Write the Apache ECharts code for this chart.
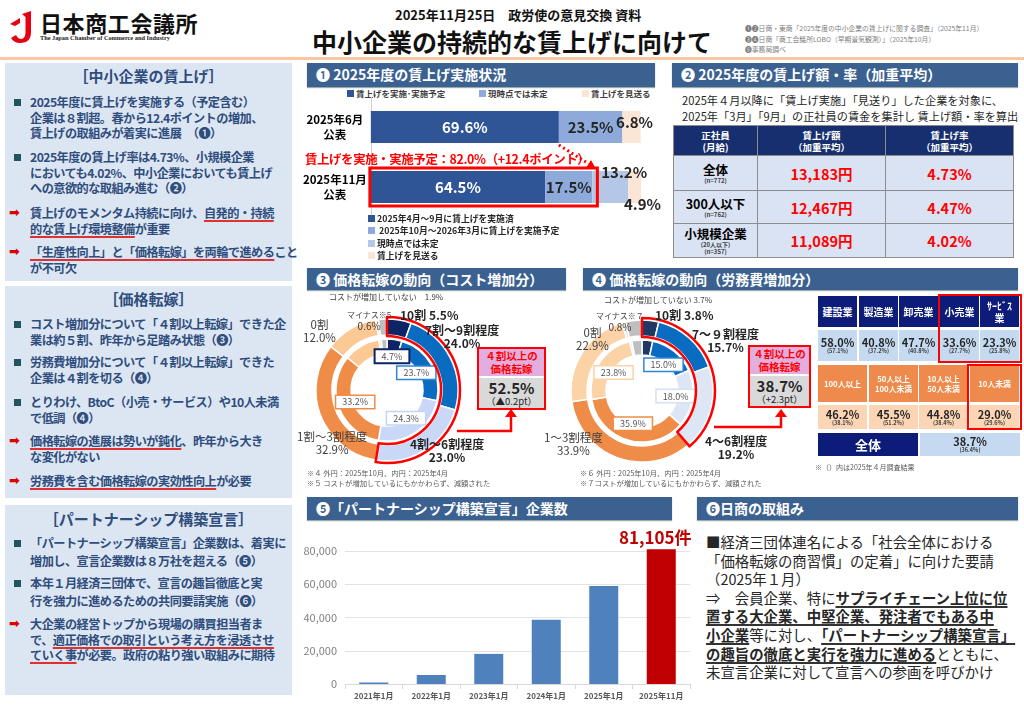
<!DOCTYPE html>
<html lang="ja"><head><meta charset="utf-8"><title>中小企業の持続的な賃上げに向けて</title>
<script src="https://cdn.jsdelivr.net/npm/echarts@6.0.0/dist/echarts.min.js"></script>
<style>
*{margin:0;padding:0;box-sizing:border-box}
html,body{width:1024px;height:708px;overflow:hidden;background:#fff}
body{position:relative;font-family:"Noto Sans CJK JP","Noto Sans",sans-serif;color:#262626}
.a{position:absolute;white-space:nowrap}
.hdr{position:absolute;background:#3b6191;color:#fff;font-weight:bold;font-size:14px;line-height:23px;padding-left:9px;white-space:nowrap;box-shadow:0 1px 1px #9aa}
.panel{position:absolute;background:#dce6f2}
.pt{position:absolute;left:0;right:0;text-align:center;font-weight:bold;font-size:15px;color:#2f4d7d}
.it{position:absolute;left:25px;font-weight:bold;font-size:12.2px;letter-spacing:-0.55px;color:#2f4d7d;white-space:nowrap;line-height:15.5px}
.mk{position:absolute;left:-16px;top:4px;width:7px;height:7px;background:#20545f}
.ar{position:absolute;left:-21px;top:-1px;color:#d00;font-size:13px;font-family:"DejaVu Sans"}
.u{text-decoration:underline;text-decoration-color:#e03030;text-underline-offset:2px;text-decoration-thickness:1.5px}
.ub{text-decoration:underline;text-decoration-color:#333;text-underline-offset:2px;text-decoration-thickness:1.5px}
.chart{position:absolute}
.sq{display:inline-block;width:7px;height:7px;margin-right:2px;vertical-align:0px}
.lg{font-size:8.5px;font-weight:bold;color:#404040}
.cell{position:absolute;display:flex;flex-direction:column;align-items:center;justify-content:center;text-align:center;white-space:nowrap}
.dl{position:absolute;white-space:nowrap;line-height:12px;text-align:center}
table.w{position:absolute;left:673px;top:125px;border-collapse:collapse;table-layout:fixed}
table.w td{border:1px solid #8c8c8c;text-align:center;vertical-align:middle;padding:0}
</style></head>
<body>

<!-- ===== header ===== -->
<svg class="a" style="left:8px;top:9px" width="32" height="36" viewBox="0 0 32 36">
 <path d="M2 15 L12 9 L12 14 L7 17 Z" fill="#e60012"/>
 <path d="M14 5 L23 2 L23 23 Q23 34 12 34 Q6 34 3 29 L8 26 Q10 30 13 30 Q17.5 30 17.5 23 L17.5 8 Z" fill="#e60012"/>
</svg>
<div class="a" style="left:40px;top:6px;font-size:22px;font-weight:bold;color:#111;letter-spacing:0.6px">日本商工会議所</div>
<div class="a" style="left:40px;top:34px;font-size:6.3px;font-family:'Liberation Serif';font-weight:bold;color:#222">The Japan Chamber of Commerce and Industry</div>
<div class="a" style="left:395px;top:5px;font-size:13px;font-weight:bold;color:#111">2025年11月25日　政労使の意見交換 資料</div>
<div class="a" style="left:312px;top:24px;font-size:25px;font-weight:bold;color:#111;line-height:34px">中小企業の持続的な賃上げに向けて</div>
<div class="a" style="left:745px;top:23px;font-size:6.8px;line-height:10.5px;color:#808080">❶❷日商・東商「2025年度の中小企業の賃上げに関する調査」（2025年11月）<br>❸❹日商「商工会議所LOBO（早期景気観測）」（2025年10月）<br>❺事務局調べ</div>
<div class="a" style="left:0;top:57px;width:1024px;height:3px;background:#fac7a2"></div>

<!-- ===== left panels ===== -->
<div class="panel" style="left:5px;top:63px;width:287px;height:218px">
 <div class="pt" style="top:2px">［中小企業の賃上げ］</div>
 <div class="it" style="top:32px"><span class="mk"></span>2025年度に賃上げを実施する（予定含む）<br>企業は８割超。春から12.4ポイントの増加、<br>賃上げの取組みが着実に進展　（❶）</div>
 <div class="it" style="top:87px"><span class="mk"></span>2025年度の賃上げ率は4.73%、小規模企業<br>においても4.02%、中小企業においても賃上げ<br>への意欲的な取組み進む（❷）</div>
 <div class="it" style="top:143px"><span class="ar">➡</span>賃上げのモメンタム持続に向け、<span class="u">自発的・持続</span><br><span class="u">的な賃上げ環境整備</span>が重要</div>
 <div class="it" style="top:182px"><span class="ar">➡</span><span class="u">「生産性向上」と「価格転嫁」を両輪で進める</span>こと<br>が不可欠</div>
</div>

<div class="panel" style="left:5px;top:286px;width:287px;height:212px">
 <div class="pt" style="top:2px">［価格転嫁］</div>
 <div class="it" style="top:31px"><span class="mk"></span>コスト増加分について「４割以上転嫁」できた企<br>業は約５割、昨年から足踏み状態（❸）</div>
 <div class="it" style="top:69px"><span class="mk"></span>労務費増加分について「４割以上転嫁」できた<br>企業は４割を切る（❹）</div>
 <div class="it" style="top:109px"><span class="mk"></span>とりわけ、BtoC（小売・サービス）や10人未満<br>で低調（❹）</div>
 <div class="it" style="top:148px"><span class="ar">➡</span><span class="u">価格転嫁の進展は勢いが鈍化</span>、昨年から大き<br>な変化がない</div>
 <div class="it" style="top:188px"><span class="ar">➡</span><span class="u">労務費を含む価格転嫁の実効性向上</span>が必要</div>
</div>

<div class="panel" style="left:5px;top:505px;width:287px;height:190px">
 <div class="pt" style="top:3px">［パートナーシップ構築宣言］</div>
 <div class="it" style="top:30px;line-height:17.5px"><span class="mk" style="top:5px"></span>「パートナーシップ構築宣言」企業数は、着実に<br>増加し、宣言企業数は８万社を超える（❺）</div>
 <div class="it" style="top:70px;line-height:17.5px"><span class="mk" style="top:5px"></span>本年１月経済三団体で、宣言の趣旨徹底と実<br>行を強力に進めるための共同要請実施（❻）</div>
 <div class="it" style="top:112px;line-height:15.5px"><span class="ar">➡</span>大企業の経営トップから現場の購買担当者ま<br>で、<span class="u">適正価格での取引という考え方を浸透させ</span><br><span class="u">ていく事</span>が必要。政府の粘り強い取組みに期待</div>
</div>

<!-- ===== section headers ===== -->
<div class="hdr" style="left:307px;top:63px;width:348px;height:24px">❶ 2025年度の賃上げ実施状況</div>
<div class="hdr" style="left:672px;top:63px;width:346px;height:24px">❷ 2025年度の賃上げ額・率（加重平均）</div>
<div class="hdr" style="left:307px;top:268px;width:259px;height:22px;line-height:22px">❸ 価格転嫁の動向（コスト増加分）</div>
<div class="hdr" style="left:583px;top:268px;width:435px;height:22px;line-height:22px">❹ 価格転嫁の動向（労務費増加分）</div>
<div class="hdr" style="left:307px;top:497px;width:365px;height:23px">❺「パートナーシップ構築宣言」企業数</div>
<div class="hdr" style="left:697px;top:497px;width:321px;height:23px">❻日商の取組み</div>

<!-- ===== section 1 ===== -->
<div class="a lg" style="left:347px;top:87px"><span class="sq" style="background:#2f5597"></span>賃上げを実施･実施予定</div>
<div class="a lg" style="left:479px;top:87px"><span class="sq" style="background:#8eaadb"></span>現時点では未定</div>
<div class="a lg" style="left:582px;top:87px"><span class="sq" style="background:#fbe5d6"></span>賃上げを見送る</div>
<div class="chart" id="c1" style="left:300px;top:90px;width:370px;height:130px"></div>
<div class="a" id="s1note" style="left:305px;top:150px;font-size:12.4px;letter-spacing:-0.35px;font-weight:bold;color:#ff0000"></div>
<div class="a lg" style="left:368px;top:213px;line-height:12.4px;font-size:8.8px;color:#262626">
 <span class="sq" style="background:#2f5597"></span>2025年4月～9月に賃上げを実施済<br>
 <span class="sq" style="background:#8eaadb"></span> 2025年10月～2026年3月に賃上げを実施予定<br>
 <span class="sq" style="background:#b4c7e7"></span>現時点では未定<br>
 <span class="sq" style="background:#fbe5d6"></span>賃上げを見送る</div>

<!-- ===== section 2 ===== -->
<div class="a" style="left:682px;top:92px;font-size:11.2px;line-height:16px;color:#262626">2025年４月以降に「賃上げ実施」「見送り」した企業を対象に、<br>2025年「3月」「9月」の正社員の賃金を集計し 賃上げ額・率を算出</div>
<table class="w" id="wtable"></table>

<!-- ===== section 3 / 4 ===== -->
<div class="chart" id="c3" style="left:300px;top:292px;width:180px;height:180px"></div>
<div class="chart" id="c4" style="left:570px;top:292px;width:150px;height:180px"></div>
<div id="labels34"></div>
<div class="a" style="left:307px;top:468px;font-size:7.3px;line-height:10px;color:#595959">※４ 外円：2025年10月、内円：2025年4月<br>※５ コストが増加しているにもかかわらず、減額された</div>
<div class="a" style="left:580px;top:468px;font-size:7.3px;line-height:10px;color:#595959">※６ 外円：2025年10月、内円：2025年4月<br>※７コストが増加しているにもかかわらず、減額された</div>

<!-- right table -->
<div id="rtable"></div>
<div class="a" style="left:815px;top:462px;font-size:7px;color:#595959">※（）内は2025年４月調査結果</div>

<!-- ===== section 5 ===== -->
<div class="chart" id="c5" style="left:298px;top:525px;width:400px;height:183px"></div>

<!-- ===== section 6 ===== -->
<div class="a" style="left:706px;top:533px;font-size:14.4px;line-height:18.6px;color:#262626">■経済三団体連名による「社会全体における<br>「価格転嫁の商習慣」の定着」に向けた要請<br>（2025年１月）<br>⇒　会員企業、特に<b class="ub">サプライチェーン上位に位</b><br><b class="ub">置する大企業、中堅企業、発注者でもある中</b><br><b class="ub">小企業</b>等に対し、<b class="ub">「パートナーシップ構築宣言」</b><br><b class="ub">の趣旨の徹底と実行を強力に進める</b>とともに、<br>未宣言企業に対して宣言への参画を呼びかけ</div>

<!-- arrows -->
<svg class="a" style="left:0;top:0;pointer-events:none" width="1024" height="708">
 <polyline points="457,431 511,431 511,416" fill="none" stroke="#ff0000" stroke-width="2.5"/>
 <polygon points="505,417 517,417 511,409" fill="#ff0000"/>
 <polyline points="714,427 781,427 781,416" fill="none" stroke="#ff0000" stroke-width="2.5"/>
 <polygon points="775,417 787,417 781,409" fill="#ff0000"/>
</svg>

<script>
// ---------------- data ----------------
// Section 1: wage increase implementation status (%)
const s1Categories = ['2025年6月\n公表', '2025年11月\n公表'];
const s1Done      = [69.6, 64.5];   // 実施・実施予定 / 4月～9月に実施済
const s1Planned   = [23.5, 17.5];   // 6月: 現時点では未定 / 11月: 10月～3月に実施予定
const s1Undecided = [null, 13.2];   // 現時点では未定 (11月)
const s1Skip      = [6.8, 4.9];     // 賃上げを見送る

// Section 2: wage increase amount / rate
const wageRows   = ['全体', '300人以下', '小規模企業'];
const wageSub    = ['(n=772)', '(n=762)', '(20人以下)<br>(n=357)'];
const wageAmount = ['13,183円', '12,467円', '11,089円'];
const wageRate   = ['4.73%', '4.47%', '4.02%'];

// Sections 3 & 4: price pass-through donuts (%)
const passCats    = ['10割', '7割～9割程度', '4割～6割程度', '1割～3割程度', '0割', 'マイナス', 'コストが増加していない'];
const costOuter   = [5.5, 24.0, 23.0, 32.9, 12.0, 0.6, 1.9];   // 2025年10月
const costInner   = [4.7, 23.7, 24.3, 33.2, 11.5, 0.8, 1.8];   // 2025年4月
const laborOuter  = [3.8, 15.7, 19.2, 33.9, 22.9, 0.8, 3.7];   // 2025年10月
const laborInner  = [3.4, 15.0, 18.0, 35.9, 23.8, 0.7, 3.2];   // 2025年4月

// Section 4 table: 4割以上転嫁 by industry / size (%; prev = 2025年4月)
const industries = ['建設業', '製造業', '卸売業', '小売業', 'ｻｰﾋﾞｽ<br>業'];
const indNow     = [58.0, 40.8, 47.7, 33.6, 23.3];
const indPrev    = [57.1, 37.2, 40.8, 27.7, 25.8];
const sizes      = ['100人以上', '50人以上<br>100人未満', '10人以上<br>50人未満', '10人未満'];
const sizeNow    = [46.2, 45.5, 44.8, 29.0];
const sizePrev   = [38.1, 51.2, 38.4, 29.6];
const totalNow   = 38.7, totalPrev = 36.4;

// Section 5: partnership declarations
const ppCats   = ['2021年1月', '2022年1月', '2023年1月', '2024年1月', '2025年1月', '2025年11月'];
const ppValues = [900, 5400, 18100, 38600, 58900, 81105];
const ppTicks  = [0, 20000, 40000, 60000, 80000];

// ---------------- helpers ----------------
const pct = v => v.toFixed(1) + '%';
const sum = a => a.reduce((s, v) => s + (v || 0), 0);
const FONT = '"Noto Sans CJK JP","Noto Sans",sans-serif';

// ---------------- section 1 ----------------
const s1Total = s1Done[1] + s1Planned[1];
const s1Delta = s1Total - s1Done[0];
document.getElementById('s1note').textContent =
  '賃上げを実施・実施予定：' + pct(s1Total) + '（+' + s1Delta.toFixed(1) + 'ポイント）';

const barH = 32;
const c1 = echarts.init(document.getElementById('c1'));
const lblBase = {show: true, fontSize: 15, fontWeight: 'bold', fontFamily: FONT, formatter: p => pct(p.value)};
c1.setOption({
  animation: false,
  grid: {left: 68, top: 7, width: 273, height: 120},
  xAxis: {type: 'value', min: 0, max: 100, show: false},
  yAxis: {type: 'category', inverse: true, data: s1Categories,
    axisTick: {show: false}, axisLine: {show: true, lineStyle: {color: '#d0d0d0'}},
    axisLabel: {margin: 36, align: 'center', fontSize: 11.5, fontWeight: 'bold', color: '#000', lineHeight: 15, fontFamily: FONT}},
  series: [
    {type: 'bar', stack: 's', data: s1Done, barWidth: barH, itemStyle: {color: '#2f5597'},
      label: Object.assign({}, lblBase, {color: '#fff'})},
    {type: 'bar', stack: 's', data: s1Planned, itemStyle: {color: '#8eaadb'},
      label: Object.assign({}, lblBase, {color: '#262626'})},
    {type: 'bar', stack: 's', data: s1Undecided, itemStyle: {color: '#b4c7e7'},
      label: Object.assign({}, lblBase, {color: '#262626', position: ['50%', 0], offset: [14, 1], align: 'center', verticalAlign: 'middle'})},
    {type: 'bar', stack: 's', itemStyle: {color: '#fbe5d6'},
      data: [
        {value: s1Skip[0], label: {position: ['50%', '50%'], offset: [3, -5]}},
        {value: s1Skip[1], label: {position: ['50%', '100%'], offset: [8, 1]}}
      ],
      label: Object.assign({}, lblBase, {color: '#262626', align: 'center', verticalAlign: 'middle'})},
    {type: 'custom', silent: true, z: 10, encode: {x: 0, y: 1}, data: [[s1Total, 1]],
      renderItem: (params, api) => {
        const p0 = api.coord([0, api.value(1)]);
        const p1 = api.coord([api.value(0), api.value(1)]);
        const h = barH + 6;
        return {type: 'rect', shape: {x: p0[0] - 1, y: p0[1] - h / 2, width: p1[0] - p0[0] + 6, height: h},
          style: {fill: 'none', stroke: '#ff0000', lineWidth: 3}};
      }},
    {type: 'custom', silent: true, z: 11, encode: {x: [0, 2], y: [1, 3]}, data: [[s1Done[0], 0, s1Total, 1]],
      renderItem: (params, api) => {
        const a = api.coord([api.value(0), api.value(1)]); a[1] += barH / 2 + 2;
        const b = api.coord([api.value(2), api.value(3)]); b[1] -= barH / 2 + 3; b[0] += 3;
        const ang = Math.atan2(b[1] - a[1], b[0] - a[0]);
        const L = 8, W = 4.5;
        const base = [b[0] - L * Math.cos(ang), b[1] - L * Math.sin(ang)];
        const pts = [b, [base[0] + W * Math.sin(ang), base[1] - W * Math.cos(ang)], [base[0] - W * Math.sin(ang), base[1] + W * Math.cos(ang)]];
        return {type: 'group', children: [
          {type: 'line', shape: {x1: a[0], y1: a[1], x2: base[0], y2: base[1]}, style: {stroke: '#ff0000', lineWidth: 3, lineDash: [2, 3]}},
          {type: 'polygon', shape: {points: pts}, style: {fill: '#ff0000'}}
        ]};
      }}
  ]
});

// ---------------- section 2 ----------------
(function () {
  const t = document.getElementById('wtable');
  let h = '<colgroup><col style="width:84px"><col style="width:128px"><col style="width:128px"></colgroup>';
  h += '<tr style="height:30px;background:#172f6e;color:#fff;font-weight:bold;font-size:9.5px;line-height:12px">' +
       '<td>正社員<br>(月給)</td><td>賃上げ額<br>（加重平均）</td><td>賃上げ率<br>（加重平均）</td></tr>';
  const hs = [35, 33, 34];
  wageRows.forEach((r, i) => {
    h += '<tr style="height:' + hs[i] + 'px;background:#dae3f3">' +
      '<td style="line-height:9px"><div style="font-weight:bold;font-size:12.5px;line-height:15px;color:#000">' + r + '</div>' +
      '<div style="font-weight:bold;font-size:6px;color:#404040;line-height:7.5px">' + wageSub[i] + '</div></td>' +
      '<td style="color:#ff0000;font-weight:bold;font-size:14.5px">' + wageAmount[i] + '</td>' +
      '<td style="color:#ff0000;font-weight:bold;font-size:14.5px">' + wageRate[i] + '</td></tr>';
  });
  t.innerHTML = h;
})();

// ---------------- sections 3 & 4 donuts ----------------
const costColors  = ['#0d2466', '#0a6cc0', '#c9d8f6', '#ef8c47', '#fcc995', '#e7e6e6', '#bfbfbf'];
const laborColors = ['#1f3864', '#0a6cc0', '#dce6f4', '#ef8c47', '#fbd3a6', '#d9e1ea', '#bfbfbf'];
const boxBorders3 = ['#0d2466', '#2e86d6', '#c3d4f4', '#ef8c47'];
const boxBorders4 = ['#1f3864', '#2e86d6', '#d5e1f3', '#ef8c47', '#fbd3a6'];

function donut(id, center, outer, inner, colors, borders) {
  const ch = echarts.init(document.getElementById(id));
  const mk = arr => arr.map((v, i) => ({value: v, name: passCats[i], itemStyle: {color: colors[i]}}));
  const hi = outer[0] + outer[1] + outer[2];
  ch.setOption({
    animation: false,
    series: [
      {type: 'pie', silent: true, center, radius: [55, 71], startAngle: 90, data: mk(outer),
        label: {show: false}, labelLine: {show: false}, itemStyle: {borderColor: '#fff', borderWidth: 1.5}},
      {type: 'pie', silent: true, center, radius: [36, 51], startAngle: 90, data: mk(inner),
        label: {show: false}, labelLine: {show: false}, itemStyle: {borderColor: '#fff', borderWidth: 1.5}},
      {type: 'pie', silent: true, center, radius: [0, 62], startAngle: 90, z: 5,
        data: inner.map((v, i) => ({value: v, itemStyle: {color: 'rgba(0,0,0,0)'},
          label: {show: i < borders.length, borderColor: borders[i] || '#fff', borderWidth: i === 0 ? 2 : 1.5}})),
        label: {position: 'inside', formatter: p => pct(p.value), backgroundColor: '#fff', color: '#595959',
          fontSize: 9, fontFamily: FONT, padding: [2, 6, 1, 6]}, labelLine: {show: false}},
      {type: 'pie', silent: true, center, radius: [54, 73], startAngle: 90, z: 6,
        data: [{value: hi, itemStyle: {color: 'rgba(0,0,0,0)', borderColor: '#ff0000', borderWidth: 2.5}},
               {value: 100 - hi, itemStyle: {color: 'rgba(0,0,0,0)', borderWidth: 0}}],
        label: {show: false}, labelLine: {show: false}}
    ]
  });
}
donut('c3', [87, 98], costOuter, costInner, costColors, boxBorders3);
donut('c4', [72, 99], laborOuter, laborInner, laborColors, boxBorders4);

(function () {
  const L = [];
  const t = (x, y, html, st) => L.push('<div class="dl" style="left:' + x + 'px;top:' + y + 'px;' + (st || '') + '">' + html + '</div>');
  const reg = 'font-size:11.5px;color:#404040;line-height:13px;';
  const bold = 'font-size:12px;font-weight:bold;color:#262626;line-height:13px;';
  // section 3
  t(329, 291, 'コストが増加していない　' + pct(costOuter[6]), 'font-size:8px;color:#404040;');
  t(347, 309, 'マイナス※5<br><span style="font-size:10px">' + pct(costOuter[5]) + '</span>', 'font-size:8px;color:#404040;line-height:11px;');
  t(400, 308, '10割 ' + pct(costOuter[0]), bold);
  t(425, 323, '7割～9割程度<br>' + pct(costOuter[1]), bold);
  t(303, 318, '0割<br>' + pct(costOuter[4]), reg);
  t(297, 430, '1割～3割程度<br>' + pct(costOuter[3]), reg);
  t(410, 437, '4割～6割程度<br>' + pct(costOuter[2]), bold);
  // section 4
  t(604, 294, 'コストが増加していない ' + pct(laborOuter[6]), 'font-size:8px;color:#404040;');
  t(596, 310, 'マイナス※７<br><span style="font-size:10px">' + pct(laborOuter[5]) + '</span>', 'font-size:8px;color:#404040;line-height:11px;');
  t(655, 308, '10割 ' + pct(laborOuter[0]), bold);
  t(692, 327, '7～９割程度<br>' + pct(laborOuter[1]), bold);
  t(576, 326, '0割<br>' + pct(laborOuter[4]), reg);
  t(544, 431, '1～3割程度<br>' + pct(laborOuter[3]), reg);
  t(705, 434, '4～6割程度<br>' + pct(laborOuter[2]), bold);

  // callout boxes
  const box = (x, y, w, now, prev) => {
    const d = now - prev;
    const ds = (d < 0 ? '▲' : '+') + Math.abs(d).toFixed(1) + 'pt';
    L.push('<div class="a" style="left:' + x + 'px;top:' + y + 'px;width:' + w + 'px;height:63px;border:2px solid #ff0000;background:#d9d9d9;text-align:center">' +
      '<div style="height:29px;background:#e2aee0;border-bottom:2px solid #fff;color:#ff0000;font-weight:bold;font-size:10.5px;line-height:12.5px;padding-top:1px">４割以上の<br>価格転嫁</div>' +
      '<div style="font-weight:bold;font-size:15px;line-height:17px;color:#262626;margin-top:1px">' + pct(now) + '</div>' +
      '<div style="font-size:9.5px;line-height:11px;color:#262626">（' + ds + '）</div></div>');
  };
  box(477, 347, 69, sum(costOuter.slice(0, 3)), sum(costInner.slice(0, 3)));
  box(748, 345, 63, sum(laborOuter.slice(0, 3)), sum(laborInner.slice(0, 3)));
  document.getElementById('labels34').innerHTML = L.join('');
})();

// ---------------- section 4 table ----------------
(function () {
  const H = [];
  const cell = (x, y, w, h, bg, html, st) => H.push('<div class="cell" style="left:' + x + 'px;top:' + y + 'px;width:' + w + 'px;height:' + h + 'px;background:' + bg + ';' + (st || '') + '">' + html + '</div>');
  const val = (n, p) => '<div style="font-weight:bold;font-size:11px;line-height:12px;color:#262626">' + pct(n) + '</div><div style="font-size:5.5px;line-height:7px;color:#404040;font-weight:bold">(' + pct(p) + ')</div>';
  industries.forEach((n, i) => {
    const x = 818 + Math.round(i * 40.6);
    cell(x, 296, 39, 31, '#0c1c78', n, 'color:#fff;font-weight:bold;font-size:10px;line-height:12px');
    cell(x, 330, 39, 31, '#c5d9f1', val(indNow[i], indPrev[i]));
  });
  sizes.forEach((n, i) => {
    const x = 818 + Math.round(i * 50.6);
    cell(x, 365, 49, 37, '#ee8b4c', n, 'color:#fff;font-weight:bold;font-size:7.8px;line-height:10px');
    cell(x, 405, 49, 24, '#fcd5b5', val(sizeNow[i], sizePrev[i]));
  });
  cell(818, 433, 100, 23, '#0c1c78', '全体', 'color:#fff;font-weight:bold;font-size:13px');
  cell(920, 433, 100, 23, '#c5d9f1', val(totalNow, totalPrev));
  H.push('<div class="a" style="left:938px;top:294px;width:84px;height:69px;border:2px solid #ff0000"></div>');
  H.push('<div class="a" style="left:967px;top:364px;width:55px;height:66px;border:2px solid #ff0000"></div>');
  document.getElementById('rtable').innerHTML = H.join('');
})();

// ---------------- section 5 ----------------
const c5 = echarts.init(document.getElementById('c5'));
c5.setOption({
  animation: false,
  grid: {left: 47, right: 8, top: 26, bottom: 24},
  xAxis: {type: 'category', data: ppCats,
    axisLine: {lineStyle: {color: '#d9d9d9'}}, axisTick: {show: true, lineStyle: {color: '#d9d9d9'}},
    axisLabel: {interval: 0, fontSize: 8, fontWeight: 'bold', color: '#595959', margin: 8, fontFamily: FONT}},
  yAxis: {type: 'value', min: ppTicks[0], max: ppTicks[ppTicks.length - 1], interval: ppTicks[1] - ppTicks[0],
    axisLine: {show: false}, axisTick: {show: false},
    splitLine: {lineStyle: {color: '#e3e3e3'}},
    axisLabel: {fontSize: 11, color: '#7f7f7f', margin: 8, fontFamily: FONT, formatter: v => v.toLocaleString('en-US')}},
  series: [{type: 'bar', barWidth: 29, clip: false,
    data: ppValues.map((v, i) => i === ppValues.length - 1
      ? {value: v, itemStyle: {color: '#c00000'},
         label: {show: true, position: 'top', distance: 3, offset: [-6, 0], formatter: p => p.value.toLocaleString('en-US') + '件',
           color: '#c00000', fontSize: 17, fontWeight: 'bold', fontFamily: FONT}}
      : {value: v, itemStyle: {color: '#4f81bd'}})}]
});
</script>
</body></html>
